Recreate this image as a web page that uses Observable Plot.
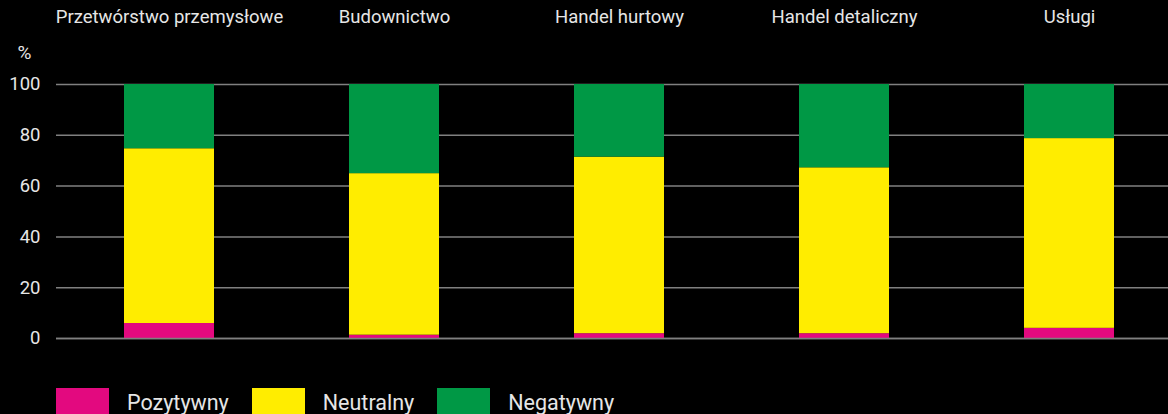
<!DOCTYPE html>
<html>
<head>
<meta charset="utf-8">
<script src="https://cdn.jsdelivr.net/npm/d3@7"></script>
<script src="https://cdn.jsdelivr.net/npm/@observablehq/plot@0.6"></script>
<style>
  html, body { margin: 0; padding: 0; background: #000; overflow: hidden; }
  body { width: 1168px; height: 414px; font-family: Roboto, "Open Sans", sans-serif; }
  #legend { display: flex; align-items: center; margin-left: 56px; margin-top: 28px; }
  .item { display: flex; align-items: center; margin-right: 23px; }
  .sw { width: 53px; height: 28px; margin-right: 18px; }
  .lab { color: #e6e6e6; font-size: 21.5px; }
</style>
</head>
<body>
<div id="chart"></div>
<div id="legend"></div>
<script>
const categories = ["Przetwórstwo przemysłowe", "Budownictwo", "Handel hurtowy", "Handel detaliczny", "Usługi"];
const series = ["Pozytywny", "Neutralny", "Negatywny"];
const pozytywny = [5.9, 1.3, 1.9, 1.9, 4.0];
const neutralny = [68.8, 63.6, 69.5, 65.3, 74.7];
const negatywny = [25.3, 35.1, 28.6, 32.8, 21.3];
const colors = ["#e3097f", "#ffed00", "#009845"];
const yTicks = [0, 20, 40, 60, 80, 100];

const valuesBySeries = [pozytywny, neutralny, negatywny];
const data = [];
series.forEach((s, si) => categories.forEach((c, ci) => data.push({category: c, series: s, value: valuesBySeries[si][ci]})));

const chart = Plot.plot({
  width: 1168,
  height: 360,
  marginTop: 84,
  marginBottom: 22,
  marginLeft: 56,
  marginRight: 0,
  style: {background: "#000", color: "#e6e6e6", fontFamily: "Roboto, sans-serif", fontSize: "18px"},
  x: {domain: categories, range: [56.5, 1181.5], paddingInner: 0.6, paddingOuter: 0.3, axis: null},
  y: {domain: [0, 100], axis: null},
  color: {domain: series, range: colors},
  marks: [
    Plot.gridY(yTicks, {stroke: "#808080", strokeOpacity: 1, strokeWidth: 1.5}),
    Plot.barY(data, Plot.stackY({x: "category", y: "value", fill: "series", order: series})),
    Plot.ruleY([0], {stroke: "#808080", strokeWidth: 1.5}),
    Plot.axisY(yTicks, {tickSize: 0, tickPadding: 16, fontSize: 18.5, fill: "#e6e6e6", label: null}),
    Plot.text(["%"], {frameAnchor: "top-left", dx: -32, dy: -32, fontSize: 19, fill: "#e6e6e6", textAnchor: "middle", lineAnchor: "middle"}),
    Plot.text(categories, {x: d => d, frameAnchor: "top", dy: -67, fontSize: 18.5, fill: "#e6e6e6", lineAnchor: "middle"})
  ]
});
document.getElementById("chart").appendChild(chart);

const legend = document.getElementById("legend");
series.forEach((s, i) => {
  const it = document.createElement("div");
  it.className = "item";
  it.innerHTML = `<div class="sw" style="background:${colors[i]}"></div><span class="lab">${s}</span>`;
  legend.appendChild(it);
});
</script>
</body>
</html>
